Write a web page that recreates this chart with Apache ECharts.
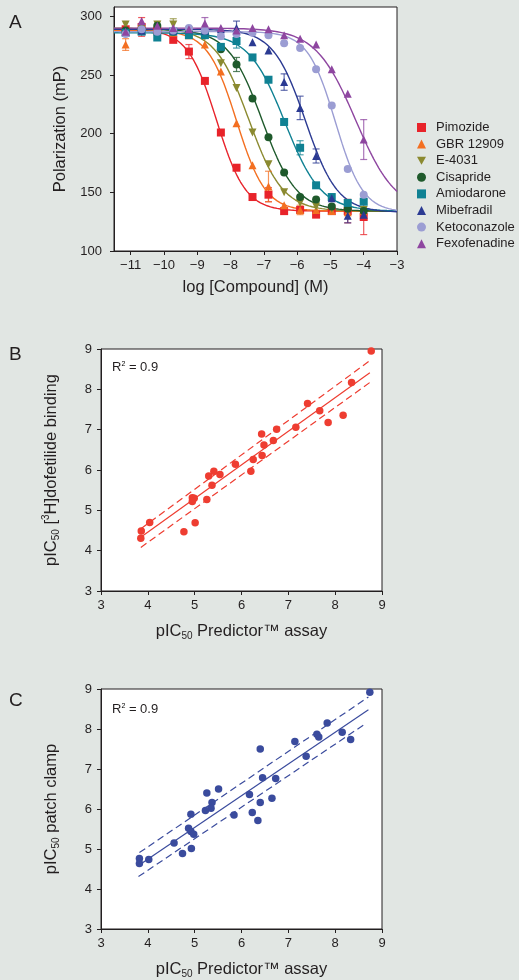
<!DOCTYPE html>
<html>
<head>
<meta charset="utf-8">
<script src="https://cdn.jsdelivr.net/npm/echarts@6/dist/echarts.min.js"></script>
<style>
  html, body { margin: 0; padding: 0; background: #e1e6e3; }
  #chart { width: 519px; height: 980px; }
</style>
</head>
<body>
<div id="chart"></div>
<script>
// ---- panel A: dose-response data ----
const logConc = [-11.15, -10.67, -10.2, -9.72, -9.25, -8.77, -8.29, -7.82, -7.34, -6.86, -6.39, -5.91, -5.43, -4.96, -4.48, -4.0]

const compoundNames = ['Pimozide', 'GBR 12909', 'E-4031', 'Cisapride', 'Amiodarone', 'Mibefradil', 'Ketoconazole', 'Fexofenadine']
const compoundColors = ['#e8232a', '#f36f21', '#8b8a30', '#1f5a2c', '#0f8193', '#2b3a92', '#9b9dd3', '#8e46a0']

const polPimozide     = [289, 291, 288, 280, 270, 245, 201, 171, 146, 148, 134, 135, 131, 134, 134, 129]
const polGbr12909     = [276, 288, 287, 286, 284, 276, 253, 209, 173, 155, 139, 135, 135, 134, 133, 134]
const polE4031        = [293, 289, 293, 293, 288, 283, 260, 239, 201, 174, 150, 141, 138, 136, 134, 135]
const polCisapride    = [288, 289, 292, 287, 286, 284, 272, 259, 230, 197, 167, 146, 144, 138, 136, 134]
const polAmiodarone   = [286, 287, 282, 287, 284, 284, 274, 279, 265, 246, 210, 188, 156, 146, 141, 142]
const polMibefradil   = [287, 288, 289, 288, 289, 288, 289, 290, 278, 271, 244, 222, 181, 145, 130, 131]
const polKetoconazole = [285, 289, 287, 288, 290, 288, 283, 285, 286, 284, 277, 273, 255, 224, 170, 148]
const polFexofenadine = [287, 296, 292, 290, 289, 294, 290, 288, 290, 289, 284, 281, 276, 255, 234, 195]

const errPimozide     = [0, 8, 0, 0, 6, 0, 0, 0, 0, 6, 0, 0, 0, 0, 10, 15]
const errGbr12909     = [5, 0, 0, 0, 0, 0, 0, 0, 0, 13, 0, 4, 0, 0, 0, 0]
const errE4031        = [0, 0, 0, 5, 0, 0, 0, 0, 0, 0, 0, 0, 0, 0, 0, 0]
const errCisapride    = [0, 0, 0, 0, 0, 0, 0, 6, 0, 0, 0, 0, 0, 0, 0, 0]
const errAmiodarone   = [0, 0, 0, 0, 0, 0, 0, 6, 0, 0, 0, 6, 0, 0, 0, 0]
const errMibefradil   = [0, 0, 0, 0, 0, 0, 0, 6, 0, 0, 7, 10, 6, 0, 6, 0]
const errKetoconazole = [0, 0, 0, 0, 0, 0, 0, 0, 0, 0, 0, 0, 0, 0, 0, 0]
const errFexofenadine = [0, 0, 0, 0, 0, 5, 0, 0, 0, 0, 0, 0, 0, 0, 0, 17]

// fitted curve parameters
const fitLogIC50 = [-8.42, -7.82, -7.45, -7.05, -6.37, -5.75, -4.85, -4.24]
const fitHill    = [1.0, 1.0, 0.85, 0.85, 0.8, 0.9, 1.05, 0.72]
const fitTop     = [289, 288, 290, 289, 286, 289, 287, 290]
const fitBottom  = [134, 134, 134, 134, 134, 133, 133, 133]

const polTicks = [100, 150, 200, 250, 300]
const concTicks = [-11, -10, -9, -8, -7, -6, -5, -4, -3]

// ---- panel B / C: correlation data ----
const predictorB = [8.77, 8.35, 8.17, 7.85, 7.67, 7.41, 7.16, 6.75, 6.68, 6.48, 6.43, 6.44, 6.25, 5.87, 6.2, 5.54, 5.41, 5.3, 5.37, 5.26, 4.95, 4.99, 4.95, 5.01, 4.77, 4.04, 3.86, 3.85]
const dofetilideB = [8.95, 8.17, 7.36, 7.18, 7.47, 7.65, 7.06, 7.01, 6.73, 6.62, 6.89, 6.36, 6.26, 6.14, 5.97, 5.89, 5.97, 5.85, 5.62, 5.27, 5.31, 5.3, 5.22, 4.69, 4.47, 4.7, 4.49, 4.31]
const fitLineB  = [[3.87, 4.35], [8.74, 8.41]]
const upperBandB = [[3.86, 4.55], [8.74, 8.71]]
const lowerBandB = [[3.85, 4.08], [8.74, 8.17]]

const predictorC = [8.74, 8.33, 8.15, 7.83, 7.65, 7.61, 7.38, 7.14, 6.73, 6.65, 6.45, 6.4, 6.4, 6.17, 6.23, 6.35, 5.51, 5.26, 5.37, 5.35, 5.23, 5.84, 4.92, 4.87, 4.92, 4.98, 4.93, 4.74, 4.56, 4.02, 3.82, 3.82]
const patchClampC = [8.92, 7.74, 7.92, 8.15, 7.8, 7.87, 7.32, 7.69, 6.76, 6.27, 6.78, 7.5, 6.16, 6.36, 5.91, 5.71, 6.5, 6.4, 6.16, 6.02, 5.96, 5.85, 5.87, 5.52, 5.44, 5.37, 5.01, 4.89, 5.15, 4.74, 4.76, 4.64]
const fitLineC  = [[3.84, 4.62], [8.71, 8.48]]
const upperBandC = [[3.82, 4.91], [8.71, 8.8]]
const lowerBandC = [[3.8, 4.31], [8.67, 8.15]]

const pol = [polPimozide, polGbr12909, polE4031, polCisapride, polAmiodarone, polMibefradil, polKetoconazole, polFexofenadine]
const errs = [errPimozide, errGbr12909, errE4031, errCisapride, errAmiodarone, errMibefradil, errKetoconazole, errFexofenadine]
const symbols = ['rect', 'triangle', 'path://M0,0 L10,0 L5,9 Z', 'circle', 'rect', 'triangle', 'circle', 'triangle']
const symbolSizes = [8, 8, 8, 8, 8, 8, 8, 8]

const FONT = '"Liberation Sans", Arial, Helvetica, sans-serif'
const INK = '#231f20'
const TITLE_SIZE = 16.5

const minus = v => (v < 0 ? '\u2212' + Math.abs(v) : String(v))

const curve = (i) => {
  const pts = []
  for (let x = -11.5; x <= -3.0001; x += 0.05) {
    pts.push([x, fitBottom[i] + (fitTop[i] - fitBottom[i]) / (1 + Math.pow(10, (x - fitLogIC50[i]) * fitHill[i]))])
  }
  pts.push([-3, fitBottom[i] + (fitTop[i] - fitBottom[i]) / (1 + Math.pow(10, (-3 - fitLogIC50[i]) * fitHill[i]))])
  return pts
}

const errorBarItem = (params, api) => {
  const x = api.value(0), y = api.value(1), e = api.value(2)
  const top = api.coord([x, y + e])
  const bot = api.coord([x, y - e])
  const w = 3.5
  const st = { stroke: api.visual('color'), lineWidth: 1.2, opacity: 0.75 }
  return {
    type: 'group',
    children: [
      { type: 'line', shape: { x1: top[0], y1: top[1], x2: bot[0], y2: bot[1] }, style: st },
      { type: 'line', shape: { x1: top[0] - w, y1: top[1], x2: top[0] + w, y2: top[1] }, style: st },
      { type: 'line', shape: { x1: bot[0] - w, y1: bot[1], x2: bot[0] + w, y2: bot[1] }, style: st }
    ]
  }
}

const axisCommon = {
  axisLine: { show: true, lineStyle: { color: INK, width: 1 } },
  axisTick: { show: true, length: 4, inside: false, lineStyle: { color: INK } },
  splitLine: { show: false },
  axisLabel: { color: INK, fontSize: 13, fontFamily: FONT }
}

const subRich = {
  t: { fontSize: TITLE_SIZE, fontFamily: FONT, color: INK, lineHeight: 20 },
  s: { fontSize: 10, fontFamily: FONT, color: INK, lineHeight: 10, verticalAlign: 'bottom' },
  p: { fontSize: 10, fontFamily: FONT, color: INK, lineHeight: 10, verticalAlign: 'top' }
}

const series = []
compoundNames.forEach((name, i) => {
  series.push({
    name: name + ' fit',
    type: 'line',
    xAxisIndex: 0, yAxisIndex: 0,
    data: curve(i),
    showSymbol: false,
    silent: true,
    lineStyle: { color: compoundColors[i], width: 1.4 },
    z: 2
  })
})
compoundNames.forEach((name, i) => {
  series.push({
    name: name + ' err',
    type: 'custom',
    xAxisIndex: 0, yAxisIndex: 0,
    renderItem: errorBarItem,
    itemStyle: { color: compoundColors[i] },
    data: logConc.map((x, k) => [x, pol[i][k], errs[i][k]]).filter(d => d[2] > 0),
    z: 3
  })
})
compoundNames.forEach((name, i) => {
  series.push({
    name: name,
    type: 'scatter',
    xAxisIndex: 0, yAxisIndex: 0,
    data: logConc.map((x, k) => [x, pol[i][k]]),
    symbol: symbols[i],
    symbolSize: symbolSizes[i],
    itemStyle: { color: compoundColors[i], opacity: 1 },
    z: 4
  })
})

const corrSeries = (gi, xs, ys, line, up, low, color) => {
  const pts = xs.map((x, k) => [x, ys[k]])
  return [
    { type: 'line', xAxisIndex: gi, yAxisIndex: gi, data: line, showSymbol: false, silent: true,
      lineStyle: { color: color, width: 1.2 } },
    { type: 'line', xAxisIndex: gi, yAxisIndex: gi, data: up, showSymbol: false, silent: true,
      lineStyle: { color: color, width: 1.2, type: [7, 4] } },
    { type: 'line', xAxisIndex: gi, yAxisIndex: gi, data: low, showSymbol: false, silent: true,
      lineStyle: { color: color, width: 1.2, type: [7, 4] } },
    { type: 'scatter', xAxisIndex: gi, yAxisIndex: gi, data: pts, symbol: 'circle', symbolSize: 7.5,
      itemStyle: { color: color, opacity: 1 }, z: 4 }
  ]
}
series.push(...corrSeries(1, predictorB, dofetilideB, fitLineB, upperBandB, lowerBandB, '#ee3d31'))
series.push(...corrSeries(2, predictorC, patchClampC, fitLineC, upperBandC, lowerBandC, '#3a4b9d'))

const gridStyle = { show: true, backgroundColor: '#ffffff', borderColor: INK, borderWidth: 1 }

const corrX = (gi) => Object.assign({}, axisCommon, {
  type: 'value', gridIndex: gi, min: 3, max: 9, interval: 1,
  axisLabel: Object.assign({}, axisCommon.axisLabel, { margin: 8 }),
  name: '{t|pIC}{s|50}{t| Predictor\u2122 assay}',
  nameLocation: 'middle', nameGap: 30,
  nameTextStyle: { rich: subRich }
})
const corrY = (gi, name) => Object.assign({}, axisCommon, {
  type: 'value', gridIndex: gi, min: 3, max: 9, interval: 1,
  axisLabel: Object.assign({}, axisCommon.axisLabel, { margin: 9 }),
  name: name,
  nameLocation: 'middle', nameGap: 40,
  nameTextStyle: { rich: subRich }
})

const option = {
  backgroundColor: '#e1e6e3',
  animation: false,
  textStyle: { fontFamily: FONT },
  grid: [
    Object.assign({ left: 114, top: 7, width: 283, height: 244 }, gridStyle),
    Object.assign({ left: 101, top: 349, width: 281, height: 242 }, gridStyle),
    Object.assign({ left: 101, top: 689, width: 281, height: 243 }, gridStyle)
  ],
  xAxis: [
    Object.assign({}, axisCommon, {
      type: 'value', gridIndex: 0, min: -11.5, max: -3,
      axisTick: Object.assign({}, axisCommon.axisTick, { customValues: concTicks }),
      axisLabel: Object.assign({}, axisCommon.axisLabel, { customValues: concTicks, formatter: minus, margin: 8 }),
      name: 'log [Compound] (M)', nameLocation: 'middle', nameGap: 28,
      nameTextStyle: { fontSize: TITLE_SIZE, color: INK, fontFamily: FONT }
    }),
    corrX(1),
    corrX(2)
  ],
  yAxis: [
    Object.assign({}, axisCommon, {
      type: 'value', gridIndex: 0, min: 100, max: 308,
      axisTick: Object.assign({}, axisCommon.axisTick, { customValues: polTicks }),
      axisLabel: Object.assign({}, axisCommon.axisLabel, { customValues: polTicks, margin: 12 }),
      name: 'Polarization (mP)', nameLocation: 'middle', nameGap: 44,
      nameTextStyle: { fontSize: TITLE_SIZE, color: INK, fontFamily: FONT }
    }),
    corrY(1, '{t|pIC}{s|50}{t| [}{p|3}{t|H]dofetilide binding}'),
    corrY(2, '{t|pIC}{s|50}{t| patch clamp}')
  ],
  legend: {
    orient: 'vertical',
    left: 417, top: 121, padding: 0,
    itemWidth: 9, itemHeight: 9, itemGap: 3.6,
    data: compoundNames,
    textStyle: { fontSize: 13, color: INK, fontFamily: FONT, padding: [0, 0, 0, 5] },
    selectedMode: false
  },
  graphic: [
    { type: 'text', x: 9, y: 23, style: { text: 'A', fontSize: 19, fontFamily: FONT, fill: INK, verticalAlign: 'middle' } },
    { type: 'text', x: 9, y: 355, style: { text: 'B', fontSize: 19, fontFamily: FONT, fill: INK, verticalAlign: 'middle' } },
    { type: 'text', x: 9, y: 701, style: { text: 'C', fontSize: 19, fontFamily: FONT, fill: INK, verticalAlign: 'middle' } },
    { type: 'text', x: 112, y: 367, z: 10, style: { text: '{a|R}{b|2}{a| = 0.9}', verticalAlign: 'middle',
      rich: { a: { fontSize: 13, fontFamily: FONT, fill: INK, color: INK }, b: { fontSize: 7, fontFamily: FONT, color: INK, verticalAlign: 'top', lineHeight: 8 } } } },
    { type: 'text', x: 112, y: 709, z: 10, style: { text: '{a|R}{b|2}{a| = 0.9}', verticalAlign: 'middle',
      rich: { a: { fontSize: 13, fontFamily: FONT, fill: INK, color: INK }, b: { fontSize: 7, fontFamily: FONT, color: INK, verticalAlign: 'top', lineHeight: 8 } } } }
  ],
  series: series
}

const chart = echarts.init(document.getElementById('chart'))
chart.setOption(option)
</script>
</body>
</html>
